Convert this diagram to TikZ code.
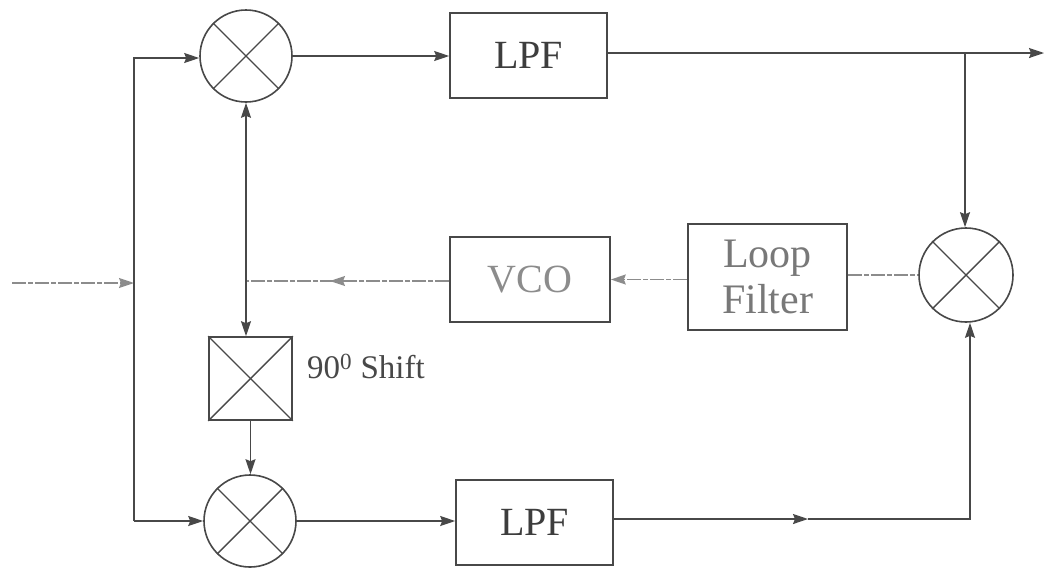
\documentclass[tikz,border=0pt]{standalone}
\usepackage{fontspec}
\setmainfont{Liberation Serif}
\usetikzlibrary{arrows.meta}
\definecolor{ink}{HTML}{484848}
\definecolor{faded}{HTML}{8C8C8C}
\tikzset{
  x=1pt,y=-1pt,
  wire/.style={draw=ink,line width=1.6pt},
  fadewire/.style={draw=faded,line width=1.4pt,dash pattern=on 14pt off 2pt on 5pt off 2pt},
  tip/.style={-{Stealth[length=15pt,width=10pt,inset=2pt]}},
  box/.style={draw=ink,line width=1.6pt,rectangle,inner sep=0pt,font=\fontsize{40}{44}\selectfont,text=ink!85!black},
  mixer/.style={draw=ink,line width=1.6pt,circle,inner sep=0pt,minimum size=92pt},
  xline/.style={draw=ink,line width=1.4pt}
}
\newcommand{\boxat}[7]{\node[box,minimum width=#4 pt,minimum height=#5 pt,align=center,#7] (#1) at (#2,#3) {#6};}
\begin{document}
\begin{tikzpicture}
\useasboundingbox[fill=white] (0,0) rectangle (1048,574);
% mixers
\node[mixer] (mt) at (246,56) {};
\node[mixer] (mb) at (250,521) {};
\node[mixer,minimum size=94pt] (mr) at (966,275) {};
\foreach \m in {mt,mb,mr}{
  \draw[xline] (\m.45) -- (\m.225);
  \draw[xline] (\m.135) -- (\m.315);
}
% boxes
\boxat{lpft}{528.5}{55.5}{157}{85}{LPF}{}
\boxat{lpfb}{534.5}{522.5}{157}{85}{LPF}{}
\boxat{vco}{530}{279.5}{160}{85}{VCO}{text=faded}
\node[box,minimum width=159pt,minimum height=106pt,align=center,text=faded!70!ink,font=\fontsize{42}{46}\selectfont] (lf) at (767.5,277) {Loop\\Filter};
\node[draw=ink,line width=1.6pt,rectangle,minimum width=83pt,minimum height=83pt,inner sep=0pt] (sh) at (250.5,378.5) {};
\draw[xline] (sh.north west) -- (sh.south east);
\draw[xline] (sh.north east) -- (sh.south west);
\node[anchor=west,inner sep=0pt,text=ink,font=\fontsize{33}{36}\selectfont] (lab) at (307,366) {90\textsuperscript{0} Shift};
% coordinates
\coordinate (in) at (12,283);
\coordinate (bus) at (134,283);
\coordinate (bt) at (134,58);
\coordinate (bb) at (134,521);
\coordinate (out) at (1044,53);
\coordinate (j) at (965,53);
\coordinate (vj) at (246,281);
\coordinate (vm) at (330,281);
\coordinate (bc) at (970,519);
\coordinate (bm) at (808,519);
% input
\draw[fadewire,tip] (in) -- (bus);
\draw[wire,tip] (bb) -- (bt) -- (mt.west |- bt);
\draw[wire,tip] (bb) -- (mb.west);
% top
\draw[wire,tip] (mt.east) -- (lpft.west |- mt.east);
\draw[wire,tip] (lpft.east |- out) -- (out);
\draw[wire,tip] (j) -- (mr.north -| j);
% bottom
\draw[wire,tip] (mb.east) -- (lpfb.west |- mb.east);
\draw[wire,tip] (lpfb.east |- bc) -- (bm);
\draw[wire,tip] (bm) -- (bc) -- (bc |- mr.south);
% loop
\draw[fadewire] (lf.east |- mr.west) -- (mr.west);
\draw[fadewire,tip] (lf.west |- vco.east) -- (vco.east);
\draw[fadewire] (vco.west |- vj) -- (vj);
\draw[fadewire,tip] (vco.west |- vj) -- (vm);
% double arrow and shift
\draw[wire,{Stealth[length=15pt,width=10pt,inset=2pt]}-{Stealth[length=15pt,width=10pt,inset=2pt]}] (mt.south) -- (mt.south |- sh.north);
\draw[wire,tip] (sh.south) -- (sh.south |- mb.north);
\end{tikzpicture}
\end{document}
